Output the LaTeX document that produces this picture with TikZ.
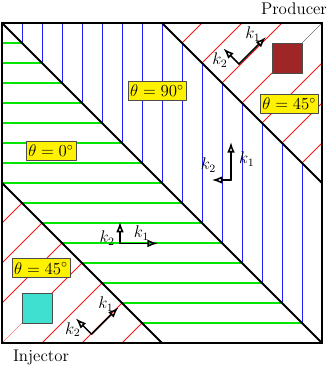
\documentclass[tikz,border=0pt]{standalone}
\usetikzlibrary{arrows.meta}
\definecolor{prodred}{RGB}{158,38,38}
\definecolor{injcyan}{RGB}{64,224,208}
\definecolor{zonegreen}{RGB}{0,230,0}
\definecolor{zoneblue}{RGB}{30,30,255}
\definecolor{zonered}{RGB}{255,20,20}
\tikzset{
  anglebox/.style={draw=black!70, fill=yellow, thin, font=\large, inner xsep=1.6pt, inner ysep=2.6pt},
  kvec/.style={-{Latex[open,length=7.5pt,width=5.5pt]}, line width=1.1pt},
  klabel/.style={font=\large, inner sep=1pt},
  hatch/.style={line width=0.65pt},
  well/.style={draw=black!70, thin, minimum size=0.75cm, inner sep=0pt}
}
\begin{document}
\begin{tikzpicture}[line join=round, line cap=round]
\useasboundingbox (-0.05,-0.625) rectangle (8.25,8.575);
\path
(0,0) coordinate (SW)
(8,0) coordinate (SE)
(8,8) coordinate (NE)
(0,8) coordinate (NW)
(4,8) coordinate (N)
(8,4) coordinate (E)
(0,4) coordinate (W)
(4,0) coordinate (S)
(6,6) coordinate (pc)
(2,2) coordinate (ic);
% hatching of the three zones
\foreach \t in {0.5,1,...,7.5} {
  \draw[hatch,line width=0.8pt,color=zonegreen] ({max(0,4-\t)},\t) -- ({8-\t},\t);
  \draw[hatch,color=zoneblue] (\t,{8-\t}) -- (\t,{min(8,12-\t)});
}
\foreach \t in {0.5,1,1.5,2.5,3,3.5} {
  \draw[hatch,color=zonered] ({4+\t},{8-\t}) -- ({min(4+2*\t,8)},{min(8,12-2*\t)});
  \draw[hatch,color=zonered] (\t,{4-\t}) -- ({max(0,2*\t-4)},{max(0,4-2*\t)});
}
% wells
\node[well, fill=prodred] (prod) at (7.125,7.125) {};
\node[well, fill=injcyan] (inj) at (0.875,0.875) {};
\draw[hatch,zonered] (pc) -- (prod.south west);
\draw[very thin] (prod.north east) -- (NE);
\draw[hatch,zonered] (ic) -- (inj.north east);
\draw[very thin,zonered] (inj.south west) -- (SW);
% zone borders
\draw[line width=1.4pt] (NW) -- (SE) (N) -- (E) (W) -- (S);
\draw[line width=2pt, line join=miter] (SW) rectangle (NE);
\node[anglebox] (t90) at (3.875,6.3) {$\theta=90^\circ$};
\node[anglebox] (t0) at (1.225,4.81) {$\theta=0^\circ$};
\node[anglebox] (t45a) at (7.18,5.975) {$\theta=45^\circ$};
\node[anglebox] (t45b) at (0.975,1.87) {$\theta=45^\circ$};
\node[font=\large] (producer) at (7.3,8.36) {Producer};
\node[font=\large] (injector) at (0.975,-0.36) {Injector};
% principal directions
\coordinate (o1) at (5.925,6.975);
\coordinate (o2) at (5.725,4.075);
\coordinate (o3) at (2.95,2.49);
\coordinate (o4) at (2.24,0.22);
\draw[kvec] (o1) -- ++(45:0.95) coordinate (o1k1);
\draw[kvec] (o1) -- ++(135:0.55) coordinate (o1k2);
\draw[kvec] (o2) -- ++(90:0.95) coordinate (o2k1);
\draw[kvec] (o2) -- ++(180:0.48) coordinate (o2k2);
\draw[kvec] (o3) -- ++(0:0.95) coordinate (o3k1);
\draw[kvec] (o3) -- ++(90:0.54) coordinate (o3k2);
\draw[kvec] (o4) -- ++(45:0.95) coordinate (o4k1);
\draw[kvec] (o4) -- ++(135:0.56) coordinate (o4k2);
\node[klabel] (l1a) at (6.275,7.725) {$k_1$};
\node[klabel] (l1b) at (5.45,7.07) {$k_2$};
\node[klabel] (l2a) at (6.12,4.6) {$k_1$};
\node[klabel] (l2b) at (5.16,4.45) {$k_2$};
\node[klabel] (l3a) at (3.49,2.74) {$k_1$};
\node[klabel] (l3b) at (2.63,2.62) {$k_2$};
\node[klabel] (l4a) at (2.6,0.97) {$k_1$};
\node[klabel] (l4b) at (1.77,0.33) {$k_2$};
\end{tikzpicture}
\end{document}
